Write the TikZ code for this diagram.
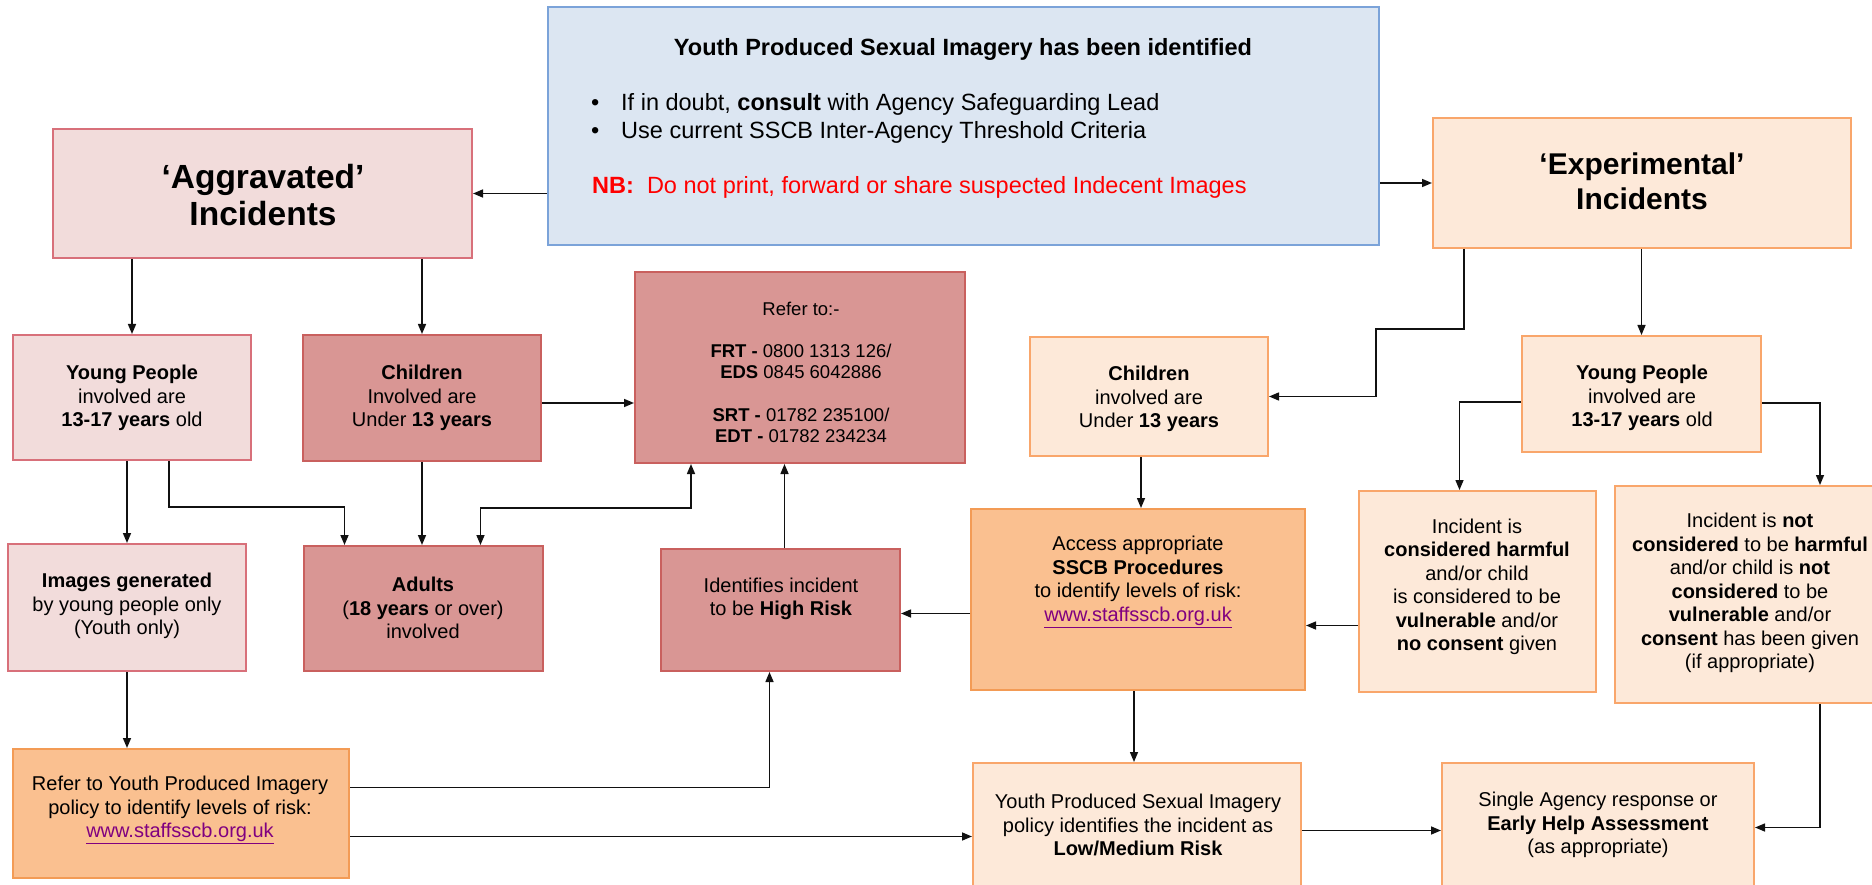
\documentclass[tikz,border=0pt]{standalone}
\usepackage{fontspec}
\setmainfont{Liberation Sans}
\usetikzlibrary{arrows.meta,fit,calc}
\definecolor{bluefill}{HTML}{DCE6F2}
\definecolor{blueline}{HTML}{7BA3D9}
\definecolor{pinkfill}{HTML}{F2DCDB}
\definecolor{pinkline}{HTML}{D8707A}
\definecolor{redfill}{HTML}{D99694}
\definecolor{redline}{HTML}{C9605E}
\definecolor{peachfill}{HTML}{FDE9D9}
\definecolor{peachline}{HTML}{F9A66B}
\definecolor{orangefill}{HTML}{FAC090}
\definecolor{orangeline}{HTML}{F39B55}
\definecolor{linkcol}{HTML}{800080}
\definecolor{nbred}{HTML}{FF0000}
\definecolor{conn}{HTML}{111111}
\newcommand{\weblink}[1]{\textcolor{linkcol}{\underline{#1}}}
\begin{document}
\begin{tikzpicture}[x=1pt,y=-1pt,
  boxbase/.style={rectangle, line width=2pt, inner sep=0pt},
  bluebox/.style={boxbase, fill=bluefill, draw=blueline},
  pinkbox/.style={boxbase, fill=pinkfill, draw=pinkline},
  redbox/.style={boxbase, fill=redfill, draw=redline},
  peachbox/.style={boxbase, fill=peachfill, draw=peachline},
  orangebox/.style={boxbase, fill=orangefill, draw=orangeline},
  txt/.style={align=center, inner sep=0pt, font=\fontsize{20}{23.5}\selectfont},
  toptxt/.style={inner sep=0pt, font=\fontsize{23.5}{27}\selectfont},
  bigtxt/.style={align=center, inner sep=0pt, font=\fontsize{33.5}{37}\selectfont\bfseries},
  arr/.style={draw=conn, line width=1.5pt, -{Triangle[length=10pt,width=8pt]}},
  arrboth/.style={draw=conn, line width=1.5pt, {Triangle[length=10pt,width=8pt]}-{Triangle[length=10pt,width=8pt]}}
]
\useasboundingbox (0,0) rectangle (1872,885);
\clip (0,0) rectangle (1872,885);
\fill[white] (0,0) rectangle (1872,885);

% boxes
\node[bluebox, fit={(548,7) (1379,245)}] (top) {};
\node[pinkbox, fit={(53,129) (472,258)}] (agg) {};
\node[peachbox, fit={(1433,118) (1851,248)}] (exp) {};
\node[pinkbox, fit={(13,335) (251,460)}] (yp1) {};
\node[redbox, fit={(303,335) (541,461)}] (ch1) {};
\node[redbox, fit={(635,272) (965,463)}] (refer) {};
\node[peachbox, fit={(1030,337) (1268,456)}] (ch2) {};
\node[peachbox, fit={(1522,336) (1761,452)}] (yp2) {};
\node[pinkbox, fit={(8,544) (246,671)}] (img) {};
\node[redbox, fit={(304,546) (543,671)}] (adults) {};
\node[redbox, fit={(661,549) (900,671)}] (ident) {};
\node[orangebox, fit={(971,509) (1305,690)}] (access) {};
\node[peachbox, fit={(1359,491) (1596,692)}] (harm) {};
\node[peachbox, fit={(1615,486) (1885,703)}] (notb) {};
\node[orangebox, fit={(13,749) (349,878)}] (ry) {};
\node[peachbox, fit={(973,763) (1301,892)}] (low) {};
\node[peachbox, fit={(1442,763) (1754,892)}] (single) {};

% texts
\node[toptxt, font=\fontsize{23.5}{27}\selectfont\bfseries] (top-t) at (963,49) {Youth Produced Sexual Imagery has been identified};
\node[toptxt, anchor=west] (top-b1) at (591,104) {\makebox[30pt][l]{\textbullet}If in doubt, \textbf{consult} with Agency Safeguarding Lead};
\node[toptxt, anchor=west] (top-b2) at (591,132) {\makebox[30pt][l]{\textbullet}Use current SSCB Inter-Agency Threshold Criteria};
\node[toptxt, anchor=west, text=nbred] (top-nb) at (592,187) {\textbf{NB:}\ \ Do not print, forward or share suspected Indecent Images};

\node[bigtxt] (agg-t) at (263,195) {`Aggravated'\\Incidents};
\node[bigtxt, font=\fontsize{30}{35}\selectfont\bfseries] (exp-t) at (1642,181) {`Experimental'\\Incidents};

\node[txt] (yp1-t) at (132,398) {\textbf{Young People}\\involved are\\\textbf{13-17 years} old};
\node[txt] (ch1-t) at (422,398) {\textbf{Children}\\Involved are\\Under \textbf{13 years}};
\node[txt, font=\fontsize{18.5}{21.2}\selectfont] (refer-t) at (801,372) {Refer to:-\\[21.2pt]\textbf{FRT -} 0800 1313 126/\\\textbf{EDS} 0845 6042886\\[21.2pt]\textbf{SRT -} 01782 235100/\\\textbf{EDT -} 01782 234234};
\node[txt] (ch2-t) at (1149,399) {\textbf{Children}\\involved are\\Under \textbf{13 years}};
\node[txt] (yp2-t) at (1642,398) {\textbf{Young People}\\involved are\\\textbf{13-17 years} old};
\node[txt] (img-t) at (127,606) {\textbf{Images generated}\\by young people only\\(Youth only)};
\node[txt] (adults-t) at (423,608) {\textbf{Adults}\\(\textbf{18 years} or over)\\involved};
\node[txt] (ident-t) at (781,599) {Identifies incident\\to be \textbf{High Risk}};
\node[txt] (access-t) at (1138,582) {Access appropriate\\\textbf{SSCB Procedures}\\to identify levels of risk:\\\weblink{www.staffsscb.org.uk}};
\node[txt] (harm-t) at (1477,587) {Incident is\\\textbf{considered harmful}\\and/or child\\is considered to be\\\textbf{vulnerable} and/or\\\textbf{no consent} given};
\node[txt] (notb-t) at (1750,593) {Incident is \textbf{not}\\\textbf{considered} to be \textbf{harmful}\\and/or child is \textbf{not}\\\textbf{considered} to be\\\textbf{vulnerable} and/or\\\textbf{consent} has been given\\(if appropriate)};
\node[txt] (ry-t) at (180,810) {Refer to Youth Produced Imagery\\policy to identify levels of risk:\\\weblink{www.staffsscb.org.uk}};
\node[txt] (low-t) at (1138,825) {Youth Produced Sexual Imagery\\policy identifies the incident as\\\textbf{Low/Medium Risk}};
\node[txt] (single-t) at (1598,825) {Single Agency response or\\\textbf{Early Help Assessment}\\(as appropriate)};

% connectors
\draw[arr] (top.west |- agg.east) -- (agg.east);
\draw[arr] (top.east |- exp.west) -- (exp.west);
\draw[arr] (agg.south -| yp1.north) -- (yp1.north);
\draw[arr] (agg.south -| ch1.north) -- (ch1.north);
\coordinate (c1) at ([yshift=-5pt]ch1.east);
\draw[arr] (c1) -- (c1 -| refer.west);
\draw[arr] (yp1.south -| img.north) -- (img.north);
\coordinate (g1) at ([xshift=37pt]yp1.south);
\coordinate (g2) at ([xshift=-79pt]adults.north);
\draw[arr] (g1) -- ++(0,46) -| (g2);
\draw[arr] (ch1.south) -- (ch1.south |- adults.north);
\coordinate (i1) at ([xshift=57pt]adults.north);
\coordinate (i2) at ([xshift=-109pt]refer.south);
\draw[arrboth] (i1) -- ++(0,-37) -| (i2);
\coordinate (j1) at ([xshift=4pt]ident.north);
\draw[arr] (j1) -- (j1 |- refer.south);
\coordinate (k1) at ([yshift=-14pt]access.west);
\draw[arr] (k1) -- (k1 -| ident.east);
\coordinate (l1) at ([xshift=-8pt]ch2.south);
\draw[arr] (l1) -- (l1 |- access.north);
\coordinate (m1) at ([xshift=-178pt]exp.south);
\draw[arr] (m1) -- ++(0,80) -- ++(-88,0) |- (ch2.east);
\draw[arr] (exp.south -| yp2.north) -- (yp2.north);
\coordinate (o1) at ([yshift=-8pt]yp2.west);
\coordinate (o2) at ([xshift=-18pt]harm.north);
\draw[arr] (o1) -| (o2);
\coordinate (p1) at ([yshift=-9pt]yp2.east);
\coordinate (p2) at ([xshift=70pt]notb.north);
\draw[arr] (p1) -| (p2);
\coordinate (q1) at ([yshift=-34pt]harm.west);
\draw[arr] (q1) -- (q1 -| access.east);
\coordinate (r1) at ([xshift=-4pt]access.south);
\draw[arr] (r1) -- (r1 |- low.north);
\coordinate (s1) at ([xshift=70pt]notb.south);
\draw[arr] (s1) |- (single.east);
\coordinate (t1) at ([yshift=-3pt]low.east);
\draw[arr] (t1) -- (t1 -| single.west);
\draw[arr] (img.south) -- (img.south |- ry.north);
\coordinate (v1) at ([yshift=26pt]ry.east);
\coordinate (v2) at ([xshift=-11pt]ident.south);
\draw[arr] (v1) -| (v2);
\coordinate (w1) at ([yshift=-23pt]ry.east);
\draw[arr] (w1) -- (w1 -| low.west);
\end{tikzpicture}
\end{document}
